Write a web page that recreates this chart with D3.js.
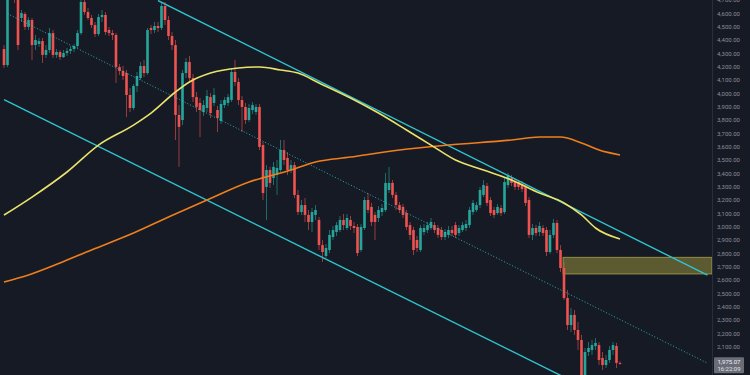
<!DOCTYPE html>
<html>
<head>
<meta charset="utf-8">
<script src="https://cdn.jsdelivr.net/npm/d3@7"></script>
<style>
  html, body { margin: 0; padding: 0; background: #161a25; }
  svg { display: block; }
  .axis text { fill: #8b8f9a; font-family: Roboto, "Liberation Sans", sans-serif; font-size: 6px; }
</style>
</head>
<body>
<svg id="chart"></svg>
<script>
// candles as [open, high, low, close]
const candles = [
  [4332,4362,4190,4212],[4212,4790,4197,4738],[4738,4888,4722,4812],[4812,4865,4678,4700],
  [4700,4722,4325,4362],[4565,4625,4535,4602],[4595,4610,4475,4498],[4498,4572,4475,4550],
  [4550,4565,4250,4362],[4362,4438,4325,4400],[4370,4415,4348,4392],[4392,4415,4228,4288],
  [4288,4362,4265,4325],[4325,4490,4302,4452],[4452,4475,4265,4288],[4288,4332,4265,4310],
  [4310,4325,4250,4272],[4272,4325,4265,4302],[4302,4340,4280,4318],[4318,4355,4295,4332],
  [4332,4370,4310,4355],[4355,4475,4340,4452],[4452,4700,4438,4685],[4685,4715,4588,4610],
  [4610,4640,4550,4565],[4565,4588,4490,4512],[4512,4535,4422,4445],[4445,4595,4430,4572],
  [4572,4625,4535,4588],[4588,4610,4438,4460],[4475,4498,4430,4452],[4452,4475,4400,4438],
  [4438,4452,4078,4198],[4198,4220,4138,4168],[4168,4205,4100,4130],[4152,4175,3822,3988],
  [3988,4040,3860,3890],[3890,4070,3875,4055],[4055,4160,4010,4130],[4115,4235,4100,4205],
  [4205,4250,4122,4152],[4152,4490,4138,4475],[4490,4512,4445,4475],[4475,4535,4452,4505],
  [4505,4535,4460,4490],[4490,4685,4475,4655],[4655,4685,4512,4550],[4550,4580,4400,4430],
  [4430,4460,4325,4362],[4362,4400,3650,3838],[3838,3912,3448,3748],[3800,4175,3762,4152],
  [4152,4265,4115,4235],[4235,4280,4085,4115],[4115,4145,3935,3972],[3972,4010,3860,3898],
  [3928,3965,3672,3875],[3860,3950,3830,3912],[3890,4025,3860,3980],[3972,4002,3815,3852],
  [3928,4040,3905,3988],[3875,3905,3710,3815],[3792,3950,3770,3920],[3912,3972,3890,3950],
  [3928,3995,3905,3972],[3950,4190,3935,4160],[4160,4250,4055,4085],[4085,4115,3912,3950],
  [3950,3980,3710,3898],[3898,3928,3770,3800],[3800,3920,3785,3890],[3875,3935,3845,3912],
  [3860,3920,3838,3898],[3898,3920,3575,3598],[3612,3635,3200,3252],[3298,3462,3050,3425],
  [3425,3448,3290,3328],[3365,3485,3312,3448],[3388,3500,3238,3440],[3425,3650,3410,3575],
  [3575,3650,3462,3500],[3515,3560,3388,3425],[3425,3500,3402,3462],[3462,3485,3215,3238],
  [3238,3275,3088,3110],[3110,3200,3088,3162],[3162,3215,3035,3088],[3088,3125,2975,3035],
  [3035,3140,2960,3110],[3088,3162,3050,3125],[3050,3072,2825,2862],[2862,2900,2735,2810],
  [2780,2870,2765,2840],[2825,2975,2802,2938],[2922,3005,2900,2975],[2960,3035,2930,3012],
  [2975,3080,2960,3050],[3050,3095,2975,3012],[2990,3095,2975,3065],[3050,3080,2975,3005],
  [3005,3035,2952,2990],[2998,3020,2780,2802],[2825,3020,2810,2998],[2990,3222,2975,3200],
  [3200,3252,3102,3125],[3148,3178,3005,3035],[3088,3110,2900,3035],[3065,3155,3035,3125],
  [3110,3170,3080,3140],[3125,3402,3110,3328],[3275,3448,3252,3328],[3328,3350,3215,3238],
  [3238,3260,3125,3162],[3162,3185,3102,3125],[3148,3170,3065,3088],[3102,3125,2975,2998],
  [3012,3035,2900,2938],[2975,2998,2788,2825],[2900,2930,2810,2840],[2825,3012,2810,2990],
  [2960,3020,2938,2990],[2975,3035,2952,3012],[2990,3065,2975,3035],[3012,3035,2952,2975],
  [2990,3012,2915,2938],[2975,2998,2900,2922],[2922,2982,2900,2960],[2938,3005,2915,2975],
  [2975,3005,2930,2952],[3012,3035,2915,2938],[2952,3012,2930,2990],[2975,3035,2960,3012],
  [2990,3050,2968,3020],[3012,3148,2990,3125],[3110,3200,3088,3178],[3125,3185,3110,3162],
  [3162,3298,3140,3275],[3238,3350,3222,3312],[3305,3328,3155,3178],[3200,3222,3080,3102],
  [3125,3148,3065,3088],[3102,3170,3088,3148],[3140,3162,3080,3102],[3110,3365,3095,3335],
  [3312,3402,3290,3388],[3365,3388,3305,3328],[3335,3358,3275,3298],[3335,3350,3275,3298],
  [3320,3342,3260,3282],[3298,3320,3155,3178],[3200,3222,2915,2938],[2938,3020,2900,2990],
  [2990,3012,2930,2952],[2960,3035,2930,3005],[2990,3012,2930,2952],[2975,2998,2780,2810],
  [2810,2975,2795,2938],[2938,3058,2915,3028],[3028,3050,2802,2825],[2825,2862,2660,2690],
  [2690,2735,2450,2465],[2465,2525,2225,2262],[2262,2390,2210,2338],[2338,2375,2188,2225],
  [2225,2285,2075,2150],[2150,2188,1812,1865],[1865,2090,1775,2060],[2060,2135,2030,2090],
  [2075,2150,2038,2112],[2105,2165,2075,2128],[2112,2135,1962,2000],[2015,2060,1925,1962],
  [1962,2038,1940,2000],[2000,2105,1978,2075],[2075,2135,2038,2112],[2105,2128,1940,1978],
  [1978,1990,1965,1975.07]
];

// moving averages read as [candle index, price]
const fastMA = [
  [0,3087],[8,3222],[18,3410],[27,3612],[37,3762],[42,3852],[49,4010],[53,4085],[59,4152],
  [67,4190],[73,4198],[79,4175],[84,4152],[90,4078],[99,3965],[107,3852],[115,3725],
  [122,3612],[129,3500],[137,3425],[145,3350],[153,3252],[160,3178],[165,3088],[169,2990],[176,2908]
];
const slowMA = [
  [0,2585],[7,2638],[16,2728],[25,2825],[37,2952],[47,3072],[58,3200],[70,3335],[82,3425],
  [89,3485],[99,3522],[113,3575],[127,3612],[145,3650],[153,3672],[159,3672],[165,3628],
  [170,3575],[176,3538]
];

// channel trendlines [index, price]
const upperLine = [[44,4696],[201,2636]];
const midLine = [[1,4597],[201,1976]];
const lowerLine = [[0,3952],[160,1872]];

// supply zone
const zoneStart = 160;
const zoneTop = 2770;
const zoneBottom = 2645;

const priceTicks = [4700,4600,4500,4400,4300,4200,4100,4000,3900,3800,3700,3600,3500,3400,
  3300,3200,3100,3000,2900,2800,2700,2600,2500,2400,2300,2200,2100,2000];
const lastPrice = 1975.07;
const lastTime = '16:22:09';

const width = 750, height = 375;
const plotRight = 712;

const svg = d3.select('#chart').attr('width', width).attr('height', height);
svg.append('rect').attr('width', width).attr('height', height).attr('fill', '#161a25');

const x = d3.scaleLinear().domain([0, candles.length - 1]).range([4, 620]);
const y = d3.scaleLinear().domain([1887.5, 4700]).range([height, 0]);

svg.append('clipPath').attr('id', 'plot')
  .append('rect').attr('x', 0).attr('y', 0).attr('width', plotRight).attr('height', height);

const plot = svg.append('g').attr('clip-path', 'url(#plot)');

// zone
plot.append('rect')
  .attr('x', x(zoneStart) - 1)
  .attr('y', y(zoneTop))
  .attr('width', plotRight - x(zoneStart) + 1)
  .attr('height', y(zoneBottom) - y(zoneTop))
  .attr('fill', 'rgba(205,195,70,0.38)')
  .attr('stroke', 'rgba(215,205,90,0.55)')
  .attr('stroke-width', 1);

// candles
const up = '#26a69a', down = '#ef5350';
const cg = plot.append('g');
cg.selectAll('.wick')
  .data(candles)
  .join('line')
  .attr('class', 'wick')
  .attr('x1', (d, i) => x(i)).attr('x2', (d, i) => x(i))
  .attr('y1', d => y(d[1])).attr('y2', d => y(d[2]))
  .attr('stroke', d => d[3] >= d[0] ? up : down)
  .attr('stroke-width', 0.8)
  .attr('opacity', 0.75);
cg.selectAll('.body')
  .data(candles)
  .join('rect')
  .attr('class', 'body')
  .attr('x', (d, i) => x(i) - 1.3)
  .attr('width', 2.6)
  .attr('y', d => y(Math.max(d[0], d[3])))
  .attr('height', d => Math.max(1, Math.abs(y(d[0]) - y(d[3]))))
  .attr('fill', d => d[3] >= d[0] ? up : down);

// trendlines
const seg = d3.line().x(d => x(d[0])).y(d => y(d[1]));
[upperLine, lowerLine].forEach(l => {
  plot.append('path').attr('d', seg(l))
    .attr('fill', 'none').attr('stroke', '#2ec4cf').attr('stroke-width', 1.4);
});
plot.append('path').attr('d', seg(midLine))
  .attr('fill', 'none').attr('stroke', '#2ec4cf').attr('stroke-width', 1)
  .attr('stroke-dasharray', '1,2').attr('opacity', 0.85);

// moving averages
const curve = d3.line().x(d => x(d[0])).y(d => y(d[1])).curve(d3.curveMonotoneX);
plot.append('path').attr('d', curve(slowMA))
  .attr('fill', 'none').attr('stroke', '#ef7f1a').attr('stroke-width', 1.6);
plot.append('path').attr('d', curve(fastMA))
  .attr('fill', 'none').attr('stroke', '#e9e36b').attr('stroke-width', 1.6);

// price axis
svg.append('line')
  .attr('x1', plotRight + 0.5).attr('x2', plotRight + 0.5)
  .attr('y1', 0).attr('y2', height)
  .attr('stroke', '#2a2e39');

const yAxis = d3.axisRight(y)
  .tickValues(priceTicks)
  .tickFormat(d3.format(',.2f'))
  .tickSize(0)
  .tickPadding(5);
svg.append('g')
  .attr('class', 'axis')
  .attr('transform', `translate(${plotRight},0)`)
  .call(yAxis)
  .call(g => g.select('.domain').remove());

// last price label
const lp = svg.append('g').attr('transform', `translate(${plotRight + 2},${y(lastPrice) - 6})`);
lp.append('rect').attr('width', 30).attr('height', 16).attr('rx', 1).attr('fill', '#6a6d78');
lp.append('text').attr('x', 15).attr('y', 6.5).attr('text-anchor', 'middle')
  .attr('fill', '#f0f0f0').style('font', '6px Roboto, sans-serif')
  .text(d3.format(',.2f')(lastPrice));
lp.append('text').attr('x', 15).attr('y', 13.5).attr('text-anchor', 'middle')
  .attr('fill', '#e0e0e0').style('font', '6px Roboto, sans-serif')
  .text(lastTime);
</script>
</body>
</html>
